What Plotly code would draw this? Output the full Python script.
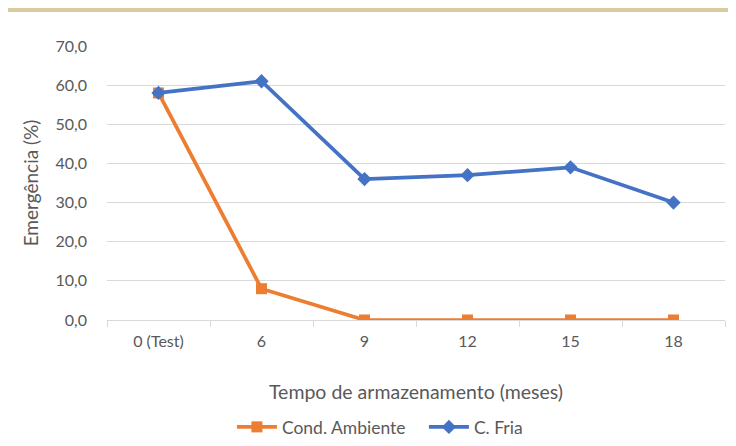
"""Emergência ao longo do tempo de armazenamento."""
import plotly.graph_objects as go

meses = ["0 (Test)", "6", "9", "12", "15", "18"]
cond_ambiente = [58.0, 8.0, 0.0, 0.0, 0.0, 0.0]
c_fria = [58.0, 61.0, 36.0, 37.0, 39.0, 30.0]

FONT = "Lato"
GRAY = "#595959"
GRID = "#d9d9d9"

fig = go.Figure()
fig.add_trace(go.Scatter(x=meses, y=cond_ambiente, name="Cond. Ambiente",
                         mode="lines+markers",
                         line=dict(color="#ed7d31", width=3.75),
                         marker=dict(symbol="square", size=11, color="#ed7d31")))
fig.add_trace(go.Scatter(x=meses, y=c_fria, name="C. Fria",
                         mode="lines+markers",
                         line=dict(color="#4472c4", width=3.75),
                         marker=dict(symbol="diamond", size=11, color="#4472c4")))

# faixa bege no topo (moldura da imagem original)
fig.add_shape(type="rect", xref="paper", yref="paper",
              x0=-0.3, x1=1.1, y0=1.124, y1=1.3,
              fillcolor="#d8cc9e", line=dict(width=0), layer="below")

fig.update_layout(
    width=720, height=430,
    margin=dict(l=99, r=3, t=38, b=118, autoexpand=False),
    paper_bgcolor="white",
    plot_bgcolor="white",
    separators=",.",
    font=dict(family=FONT, size=16, color=GRAY),
    showlegend=True,
    legend=dict(orientation="h", xref="container", yref="container",
                x=0.311, xanchor="left", y=11 / 430, yanchor="middle",
                font=dict(size=17.5, color=GRAY), bgcolor="rgba(0,0,0,0)",
                itemwidth=40, entrywidth=137, entrywidthmode="pixels"),
)
fig.update_xaxes(
    type="category", range=[-0.5, 5.5], showgrid=False, showline=True,
    linecolor=GRID, linewidth=1,
    ticks="outside", tickson="boundaries", ticklen=6, tickcolor=GRID,
    ticklabelstandoff=7,
    title=dict(text="Tempo de armazenamento (meses)", standoff=36,
               font=dict(size=19.5, color=GRAY)),
)
fig.update_yaxes(
    range=[0, 70], dtick=10, tickformat=".1f", showgrid=True, gridcolor=GRID,
    gridwidth=1, zeroline=False, ticks="", ticklabelstandoff=19,
    title=dict(text="Emergência (%)", standoff=11, font=dict(size=19, color=GRAY)),
)

fig.write_html("out.html")
